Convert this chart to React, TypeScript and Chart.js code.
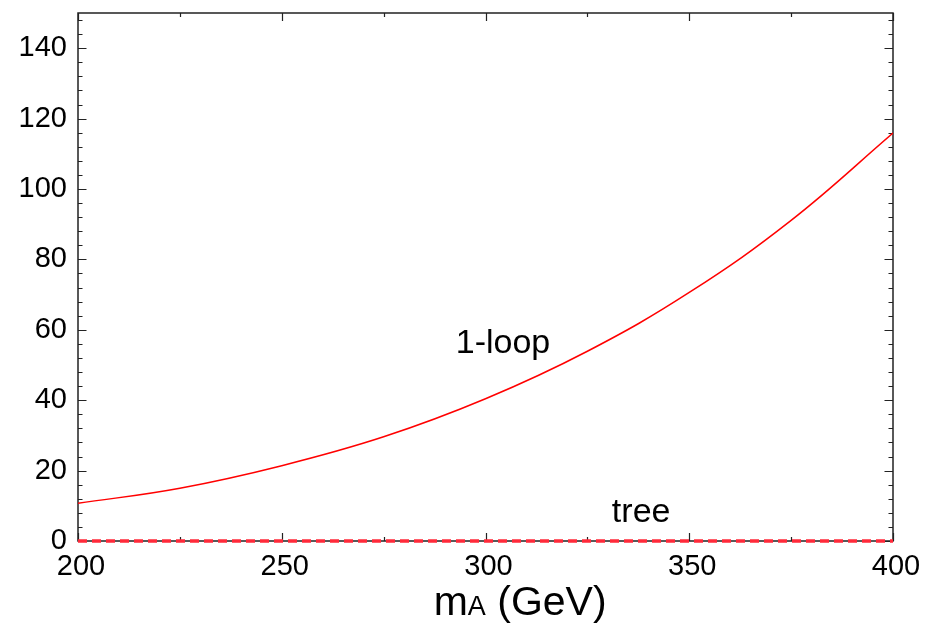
import { useEffect, useRef } from "react";
import { Chart, registerables } from "chart.js";
Chart.register(...registerables);

// ---- data ----
const mA = [200, 225, 250, 275, 300, 325, 350, 375, 400];
const oneLoop = [10.7, 15.0, 21.4, 29.6, 40.4, 53.9, 70.6, 91.1, 115.9];
const tree = [0, 0, 0, 0, 0, 0, 0, 0, 0];
const xTickValues = [200, 250, 300, 350, 400];
const xMinorValues = [225, 275, 325, 375];
const yTickValues = [0, 20, 40, 60, 80, 100, 120, 140];
const yMinorValues = [4, 8, 12, 16, 24, 28, 32, 36, 44, 48, 52, 56, 64, 68, 72, 76, 84, 88, 92, 96, 104, 108, 112, 116, 124, 128, 132, 136, 144, 148];
const labelTexts = ["1-loop", "tree"];
const labelAt = [
  [304.3, 56.1],
  [338.2, 8.1],
];

const FONT = "'Liberation Sans', Arial, Helvetica, sans-serif";

const framePlugin = {
  id: "frame",
  beforeDatasetsDraw(chart: any) {
    const { ctx, chartArea: a, scales } = chart;
    const xs = scales.x;
    const ys = scales.y;
    ctx.save();
    ctx.strokeStyle = "#222";
    ctx.lineWidth = 1.5;
    ctx.strokeRect(a.left, a.top, a.right - a.left, a.bottom - a.top);
    ctx.lineWidth = 1.2;
    ctx.beginPath();
    const yt = (v: number, len: number) => {
      const p = Math.round(ys.getPixelForValue(v)) + 0.5;
      ctx.moveTo(a.left, p);
      ctx.lineTo(a.left + len, p);
      ctx.moveTo(a.right, p);
      ctx.lineTo(a.right - len, p);
    };
    const xt = (v: number, len: number) => {
      const p = Math.round(xs.getPixelForValue(v)) + 0.5;
      ctx.moveTo(p, a.bottom);
      ctx.lineTo(p, a.bottom - len);
      ctx.moveTo(p, a.top);
      ctx.lineTo(p, a.top + len);
    };
    yTickValues.forEach((v) => yt(v, 8.5));
    yMinorValues.forEach((v) => yt(v, 4.5));
    xTickValues.forEach((v) => xt(v, 8));
    xMinorValues.forEach((v) => xt(v, 4));
    ctx.stroke();
    ctx.restore();
  },
  afterDraw(chart: any) {
    const { ctx, scales, chartArea } = chart;
    const xs = scales.x;
    const ys = scales.y;
    ctx.save();
    ctx.fillStyle = "#000";
    ctx.textBaseline = "middle";
    ctx.textAlign = "center";
    ctx.font = `34px ${FONT}`;
    labelTexts.forEach((t, i) => {
      ctx.fillText(t, xs.getPixelForValue(labelAt[i][0]), ys.getPixelForValue(labelAt[i][1]));
    });
    // axis title m_A (GeV)
    ctx.textAlign = "left";
    ctx.textBaseline = "alphabetic";
    const big = `41px ${FONT}`;
    const small = `27px ${FONT}`;
    ctx.font = big;
    const wm = ctx.measureText("m").width;
    const wg = ctx.measureText(" (GeV)").width;
    ctx.font = small;
    const wa = ctx.measureText("A").width;
    const total = wm + wa + wg;
    let x = xs.getPixelForValue(308.5) - total / 2;
    const base = chartArea.bottom + 74;
    ctx.font = big;
    ctx.fillText("m", x, base);
    x += wm;
    ctx.font = small;
    ctx.fillText("A", x, base);
    x += wa;
    ctx.font = big;
    ctx.fillText(" (GeV)", x, base);
    ctx.restore();
  },
};

export default function App() {
  const ref = useRef<HTMLCanvasElement | null>(null);
  useEffect(() => {
    document.body.style.margin = "0";
    const c = new Chart(ref.current!, {
      type: "line",
      data: {
        labels: mA,
        datasets: [
          {
            label: "1-loop",
            data: mA.map((x, i) => ({ x, y: oneLoop[i] })),
            borderColor: "#ff0000",
            borderWidth: 1.5,
            pointRadius: 0,
            tension: 0.4,
            fill: false,
          },
          {
            label: "tree",
            data: mA.map((x, i) => ({ x, y: tree[i] })),
            borderColor: "#ff2a3a",
            borderWidth: 3.5,
            borderDash: [9, 5],
            pointRadius: 0,
            fill: false,
            clip: false as any,
          },
        ],
      },
      options: {
        animation: false,
        responsive: false,
        maintainAspectRatio: false,
        layout: { padding: { top: 13, right: 54, left: 0, bottom: 0 } },
        plugins: { legend: { display: false }, tooltip: { enabled: false } },
        scales: {
          x: {
            type: "linear",
            min: 200,
            max: 400,
            grid: { display: false, drawTicks: false },
            border: { display: false },
            afterBuildTicks: (s: any) => {
              s.ticks = xTickValues.map((v) => ({ value: v }));
            },
            afterFit: (s: any) => {
              s.height = 88;
              s.paddingLeft = 0;
              s.paddingRight = 0;
            },
            ticks: {
              padding: 9,
              labelOffset: 3,
              color: "#000",
              font: { family: FONT, size: 29 },
              maxRotation: 0,
              autoSkip: false,
            },
          },
          y: {
            type: "linear",
            min: 0,
            max: 150,
            grid: { display: false, drawTicks: false },
            border: { display: false },
            afterBuildTicks: (s: any) => {
              s.ticks = yTickValues.map((v) => ({ value: v }));
            },
            afterFit: (s: any) => {
              s.width = 78;
              s.paddingTop = 0;
              s.paddingBottom = 0;
            },
            ticks: {
              padding: 11,
              color: "#000",
              font: { family: FONT, size: 29 },
              autoSkip: false,
            },
          },
        },
      },
      plugins: [framePlugin],
    });
    return () => c.destroy();
  }, []);
  return (
    <div style={{ position: "absolute", left: 0, top: 0, width: 947, height: 629 }}>
      <canvas ref={ref} width={947} height={629} style={{ width: 947, height: 629 }} />
    </div>
  );
}
